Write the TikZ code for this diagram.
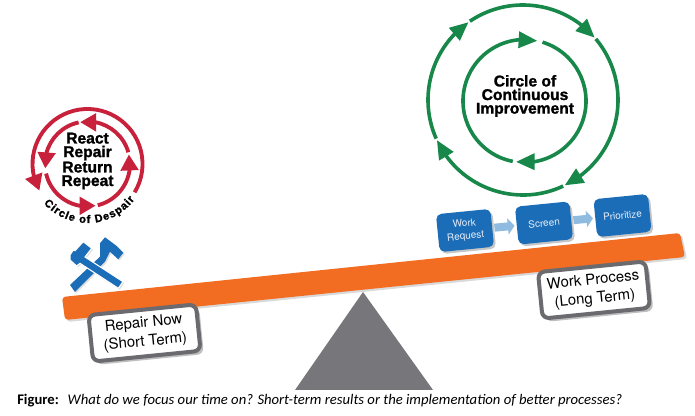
\documentclass[tikz,border=0pt]{standalone}
\usepackage{fontspec}
\setmainfont{TeX Gyre Heros}
\newfontfamily\capfont{Carlito}
\newfontfamily\heavyfont{Liberation Sans}[BoldFeatures={FakeBold=1.5}]
\usetikzlibrary{arrows.meta,bending,shadows,decorations.text}
\definecolor{ringred}{HTML}{C8213C}
\definecolor{ringgreen}{HTML}{17884A}
\definecolor{toolblue}{HTML}{1C6DB8}
\definecolor{beamorange}{HTML}{F26C22}
\definecolor{pivotgray}{HTML}{77777B}
\definecolor{flowblue}{HTML}{8FBBE0}
\tikzset{
    redring/.style={draw=ringred,line width=2.9pt,-{Triangle[length=12pt,width=13pt]}},
    greenring/.style={draw=ringgreen,line width=2.7pt,-{Triangle[length=14pt,width=12pt]}},
    termbox/.style={draw=pivotgray!90!black,line width=3pt,fill=white,rounded corners=5pt,rotate=5.7,
        minimum width=81pt,minimum height=35pt,inner sep=0pt,align=center,font=\fontsize{11.2}{14}\selectfont,
        drop shadow={shadow xshift=2.5pt,shadow yshift=-2.5pt,opacity=.5}},
    flowbox/.style={fill=toolblue,rounded corners=4pt,rotate=5.7,minimum width=41pt,minimum height=28.5pt,
        inner sep=0pt,align=center,text=white!88!toolblue,font=\fontsize{7.5}{9.5}\selectfont,
        drop shadow={shadow xshift=1.5pt,shadow yshift=-1.5pt,opacity=.45}},
    flowarrow/.style={draw=flowblue,line width=6pt,-{Triangle[length=5pt,width=12pt]},shorten <=1.5pt,shorten >=1.5pt},
    ringlabel/.style={align=center,font=\heavyfont\bfseries\fontsize{11.7}{10.2}\selectfont},
    hammer/.style={fill=toolblue,drop shadow={shadow xshift=1pt,shadow yshift=-1pt,opacity=.25}}
}
\begin{document}
\begin{tikzpicture}[x=0.75pt,y=0.75pt]
    \useasboundingbox (0,0) rectangle (695,416);

    % pivot and beam
    \fill[pivotgray] (363,124) -- (433,26) -- (295,26) -- cycle;
    \fill[beamorange,rounded corners=2.5pt,drop shadow={shadow xshift=1.5pt,shadow yshift=-1.5pt,opacity=.3}]
        (62,119) -- (680,183) -- (685,159) -- (65,96) -- cycle;

    % circle of despair
    \coordinate (despair) at (87.5,252);
    \draw[redring] ([shift={(-31:55)}]despair) arc[start angle=-31,end angle=209,radius=55];
    \foreach \from/\to in {16/100,102/186,193/281,284/373}
        \draw[redring] ([shift={(\from:42.5)}]despair) arc[start angle=\from,end angle=\to,radius=42.5];
    \node[ringlabel] (despairtext) at (87.5,255) {React\\Repair\\Return\\Repeat};
    \path[postaction={decorate},decoration={text along path,text align={fit to path},
        text={|\heavyfont\bfseries\fontsize{8.2}{10}\selectfont|Circle of Despair}}]
        ([shift={(222:59)}]despair) arc[start angle=222,end angle=323,radius=59];

    % circle of continuous improvement
    \coordinate (outerring) at (523,316);
    \coordinate (innerring) at (524.5,315);
    \foreach \from/\to in {124/41,40/-64,-65/-155,-156/-235}
        \draw[greenring] ([shift={(\from:95)}]outerring) arc[start angle=\from,end angle=\to,radius=95];
    \foreach \from/\to in {73/-98,-101/-282}
        \draw[greenring] ([shift={(\from:61.5)}]innerring) arc[start angle=\from,end angle=\to,radius=61.5];
    \node[ringlabel] (improvetext) at (525,320) {Circle of\\Continuous\\Improvement};

    % crossed hammers
    \fill[hammer] (100,172.7) -- (105,178.7) -- (116.7,170) -- (123.3,163.3) -- (118.3,156.7)
        -- (110,164.3) -- (105,154.3) -- (75,124) -- (70,131) -- (100,159.3) -- cycle;
    \fill[hammer,draw=white,line width=.8pt] (70,161) -- (73.3,166) -- (75,165.3) -- (83.3,174.3) -- (91.7,167.7)
        -- (85,159) -- (123,134.3) -- (118.3,127.7) -- (80,152.7) -- (76.7,150) -- (70,156) -- cycle;

    % boxes
    \node[termbox] (repairnow) at (144.5,83) {Repair Now\\(Short Term)};
    \node[termbox] (workprocess) at (594,126) {Work Process\\(Long Term)};
    \node[flowbox] (workreq) at (465,185.5) {Work\\Request};
    \node[flowbox] (screen) at (544,193) {Screen};
    \node[flowbox] (prioritize) at (622.5,200.5) {Prioritize};
    \draw[flowarrow] (workreq) -- (screen);
    \draw[flowarrow] (screen) -- (prioritize);

    % caption
    \node[anchor=base west,inner sep=0pt,font=\capfont\fontsize{11}{13}\selectfont] (caption) at (17,11)
        {\textbf{Figure:}\hspace{0.6em}\textit{What do we focus our time on? Short-term results or the implementation of better processes?}};
\end{tikzpicture}
\end{document}
